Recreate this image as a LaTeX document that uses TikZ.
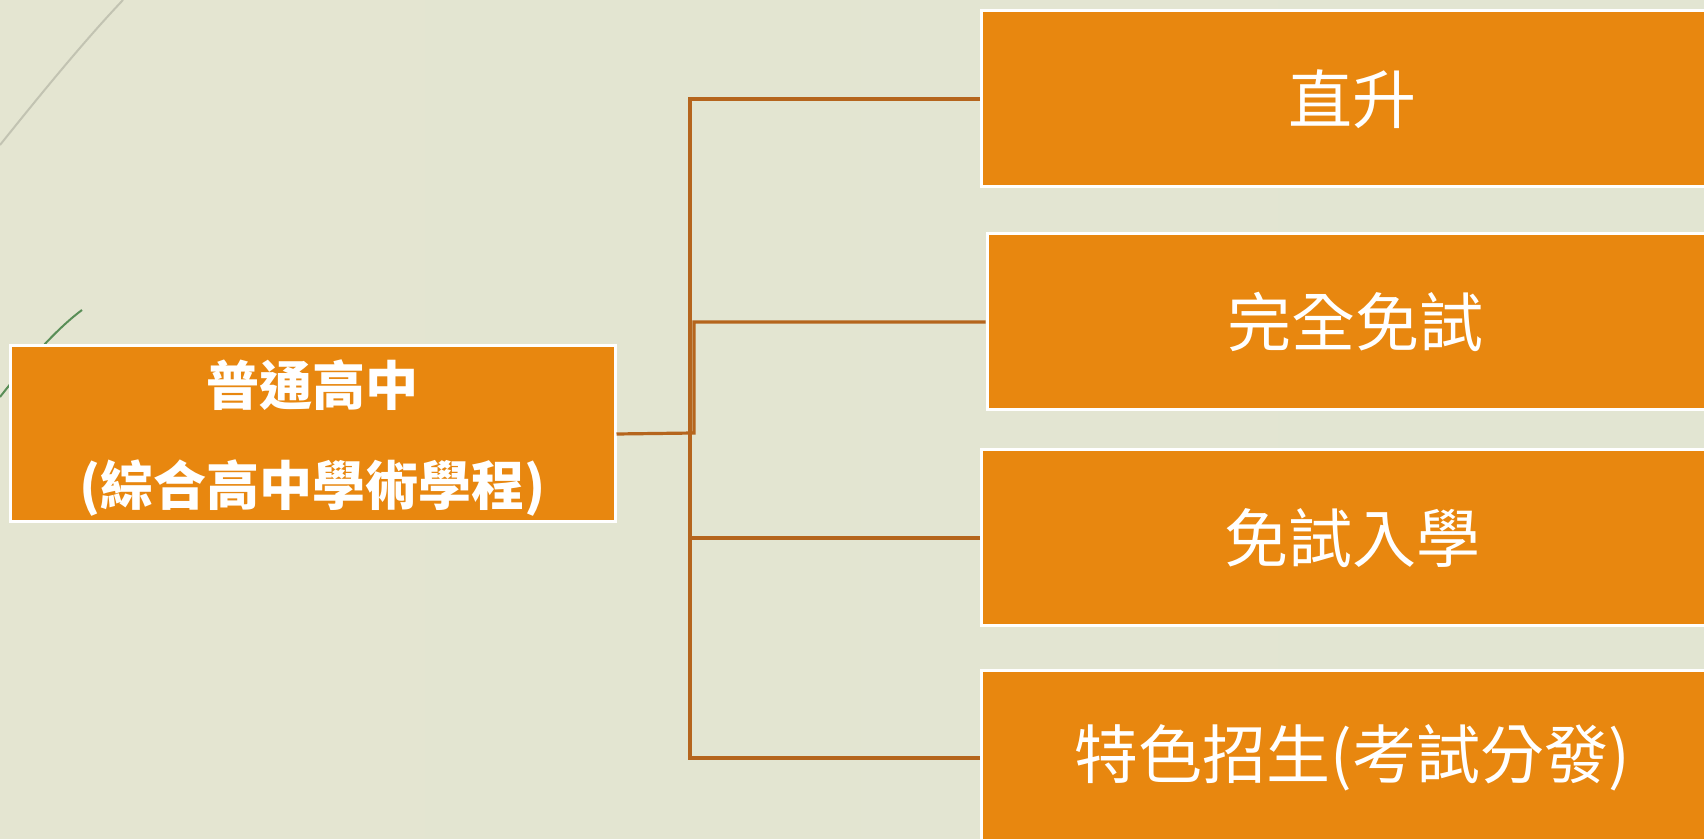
\documentclass[tikz,border=0pt]{standalone}
\usepackage{fontspec}
\newfontfamily\cjk{Noto Sans CJK TC}
\definecolor{boxorange}{HTML}{E8870F}
\definecolor{linkbrown}{HTML}{B5651D}
\definecolor{bgleft}{HTML}{E4E5D1}
\definecolor{bgmid}{HTML}{DEE4DA}
\definecolor{bgright}{HTML}{E2E5D2}

\begin{document}
\begin{tikzpicture}[x=0.5pt,y=-0.5pt]
      \tikzset { box/.style = { draw=white,line width=1.5pt,fill=boxorange,text=white,inner sep=0pt,minimum height=88pt,align=center } }
      \tikzset { leaf/.style = { box,minimum width=371pt,font=\cjk\fontsize{32pt}{38pt}\selectfont } }
      \tikzset { link/.style = { draw=linkbrown,line width=1.6pt } }

      \useasboundingbox (0,0) rectangle (1704,839);
      \clip (0,0) rectangle (1704,839);
      \shade[left color=bgleft,middle color=bgmid,right color=bgright] (0,0) rectangle (1704,839);

      % background strokes
      \draw[color=black!15!bgleft,line width=1pt] (0,145) .. controls (40,95) and (85,40) .. (123,0);
      \draw[color=black!50!bgmid!80!green,line width=1pt] (82,310) .. controls (55,330) and (25,365) .. (0,397);

      \node[box,minimum width=302.5pt] (main) at (312.5,434) {};
      \node[text=white,align=center,font=\cjk\bfseries\fontsize{26.5pt}{50pt}\selectfont] (maintext) at (312.5,438.5) {普通高中\\(綜合高中學術學程)};

      \node[leaf] (b1) at (1352,99) {直升};
      \node[leaf,minimum width=368pt] (b2) at (1355,322) {完全免試};
      \node[leaf] (b3) at (1352,538) {免試入學};
      \node[leaf] (b4) at (1352,758) {特色招生(考試分發)};

      \coordinate (j) at (690,433);
      \coordinate (k) at (694,433);

      \draw[link] (main.east) -- (k) |- (b2.west);
      \draw[link] (j) |- (b1.west);
      \draw[link] (j) |- (b3.west);
      \draw[link] (j) |- (b4.west);

    \end{tikzpicture}
\end{document}
